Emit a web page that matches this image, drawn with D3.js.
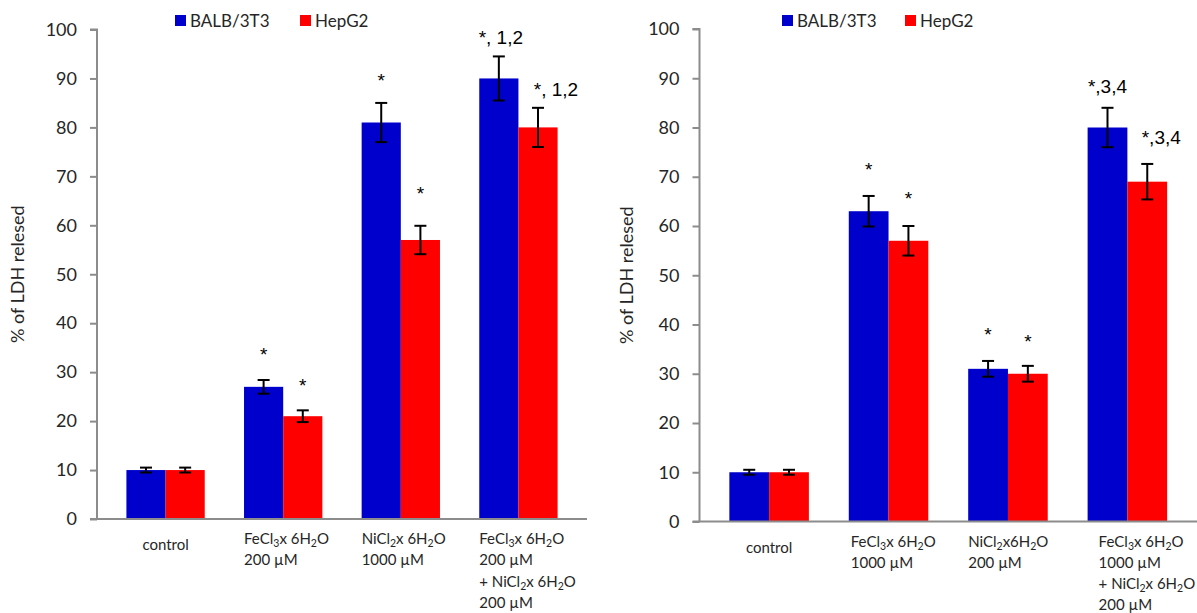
<!DOCTYPE html>
<html>
<head>
<meta charset="utf-8">
<script src="https://cdn.jsdelivr.net/npm/d3@7"></script>
<style>
  html, body { margin: 0; padding: 0; background: #fff; }
  svg { display: block; }
</style>
</head>
<body>
<svg id="chart" width="1197" height="613"></svg>
<script>
// ---------- DATA ----------
const seriesNames = ["BALB/3T3", "HepG2"];
const seriesColors = ["#0000CC", "#FF0000"];
const yTicks = [0, 10, 20, 30, 40, 50, 60, 70, 80, 90, 100];
const yTitle = "% of LDH relesed";

// Left panel
const leftCategories = [
  [["control"]],
  [["FeCl", ["3"], "x 6H", ["2"], "O"], ["200 µM"]],
  [["NiCl", ["2"], "x 6H", ["2"], "O"], ["1000 µM"]],
  [["FeCl", ["3"], "x 6H", ["2"], "O"], ["200 µM"], ["+ NiCl", ["2"], "x 6H", ["2"], "O"], ["200 µM"]]
];
const leftBalb = [10, 27, 81, 90];
const leftHepg = [10, 21, 57, 80];
const leftBalbErr = [0.5, 1.4, 4, 4.5];
const leftHepgErr = [0.5, 1.2, 2.9, 4];
const leftBalbNote = ["", "*", "*", "*, 1,2"];
const leftHepgNote = ["", "*", "*", "*, 1,2"];

// Right panel
const rightCategories = [
  [["control"]],
  [["FeCl", ["3"], "x 6H", ["2"], "O"], ["1000 µM"]],
  [["NiCl", ["2"], "x6H", ["2"], "O"], ["200 µM"]],
  [["FeCl", ["3"], "x 6H", ["2"], "O"], ["1000 µM"], ["+ NiCl", ["2"], "x 6H", ["2"], "O"], ["200 µM"]]
];
const rightBalb = [10, 63, 31, 80];
const rightHepg = [10, 57, 30, 69];
const rightBalbErr = [0.5, 3.1, 1.6, 4];
const rightHepgErr = [0.5, 3, 1.6, 3.6];
const rightBalbNote = ["", "*", "*", "*,3,4"];
const rightHepgNote = ["", "*", "*", "*,3,4"];

// ---------- LAYOUT ----------
const calibri = "Lato, 'Open Sans', sans-serif";
const arial = "'Liberation Sans', Arial, sans-serif";
const axisColor = "#8c8c8c";
const textColor = "#262626";

const svg = d3.select("#chart");

function drawPanel(cfg) {
  const g = svg.append("g");
  const n = cfg.categories.length;
  const idx = d3.range(n);

  const x = d3.scaleBand().domain(idx).range([cfg.x0, cfg.x1])
    .paddingInner(0.334).paddingOuter(0.25);
  const xs = d3.scaleBand().domain([0, 1]).range([0, x.bandwidth()]);
  const y = d3.scaleLinear().domain([0, 100]).range([cfg.yBase, cfg.yTop]);

  const values = [cfg.balb, cfg.hepg];
  const errs = [cfg.balbErr, cfg.hepgErr];
  const notes = [cfg.balbNote, cfg.hepgNote];

  // bars
  values.forEach((vals, s) => {
    g.append("g").selectAll("rect").data(vals).join("rect")
      .attr("x", (d, i) => x(i) + xs(s))
      .attr("y", d => y(d))
      .attr("width", xs.bandwidth())
      .attr("height", d => y(0) - y(d))
      .attr("fill", seriesColors[s]);
  });

  // y axis
  const yAxis = d3.axisLeft(y).tickValues(yTicks).tickSize(7).tickPadding(13);
  const ya = g.append("g").attr("transform", `translate(${cfg.x0},0)`).call(yAxis);
  ya.select(".domain").attr("stroke", axisColor).attr("stroke-width", 2)
    .attr("d", `M-7,${y(100)}H0V${y(0)}`);
  ya.selectAll(".tick line").attr("stroke", axisColor).attr("stroke-width", 2);
  ya.selectAll(".tick text").attr("fill", textColor)
    .style("font-family", calibri).style("font-size", "18px");

  // x axis line
  g.append("line")
    .attr("x1", cfg.x0 - 7).attr("x2", cfg.x1)
    .attr("y1", y(0)).attr("y2", y(0))
    .attr("stroke", axisColor).attr("stroke-width", 2);

  // error bars
  values.forEach((vals, s) => {
    const eg = g.append("g");
    vals.forEach((v, i) => {
      const cx = x(i) + xs(s) + xs.bandwidth() / 2;
      const e = errs[s][i];
      const top = y(v + e), bot = y(v - e);
      eg.append("line").attr("x1", cx).attr("x2", cx).attr("y1", top).attr("y2", bot)
        .attr("stroke", "#000").attr("stroke-width", 2);
      [top, bot].forEach(yy => eg.append("line")
        .attr("x1", cx - 6).attr("x2", cx + 6).attr("y1", yy).attr("y2", yy)
        .attr("stroke", "#000").attr("stroke-width", 2));
    });
  });

  // annotations
  values.forEach((vals, s) => {
    vals.forEach((v, i) => {
      const t = notes[s][i];
      if (!t) return;
      const cx = x(i) + xs(s) + xs.bandwidth() / 2;
      const top = y(v + errs[s][i]);
      const single = t === "*";
      const off = cfg.noteOffsets[s][i] || 0;
      const dy = cfg.noteDy[s][i] || 0;
      g.append("text")
        .attr("x", cx + off)
        .attr("y", top - (single ? 16 : 12) + dy)
        .attr("text-anchor", "middle")
        .attr("fill", "#000")
        .style("font-family", arial)
        .style("font-size", single ? "19px" : "19px")
        .text(t);
    });
  });

  // category labels
  cfg.categories.forEach((lines, i) => {
    const single = lines.length === 1;
    const lx = single ? x(i) + x.bandwidth() / 2 : x(i) + (cfg.labelShift[i] || 0);
    const tx = g.append("text")
      .attr("fill", textColor)
      .attr("x", lx)
      .attr("y", cfg.yBase + (single ? 31 : 25))
      .attr("text-anchor", single ? "middle" : "start")
      .style("font-family", calibri).style("font-size", "15px");
    lines.forEach((parts, li) => {
      parts.forEach((p, pi) => {
        const ts = tx.append("tspan");
        let dy = 0;
        if (pi === 0) { ts.attr("x", lx); dy += li === 0 ? 0 : 21.3; }
        if (pi > 0 && Array.isArray(parts[pi - 1])) dy -= 3;
        if (Array.isArray(p)) {
          ts.text(p[0]).style("font-size", "10.5px");
          dy += 3;
        } else {
          ts.text(p);
        }
        ts.attr("dy", dy);
      });
    });
  });

  // y title
  g.append("text")
    .attr("transform", `translate(${cfg.titleX},${(y(0) + y(100)) / 2}) rotate(-90)`)
    .attr("text-anchor", "middle")
    .attr("fill", textColor)
    .style("font-family", calibri).style("font-size", "18px")
    .text(yTitle);

  // legend
  const lg = g.append("g");
  seriesNames.forEach((name, s) => {
    const lx = cfg.legendX[s];
    lg.append("rect").attr("x", lx).attr("y", 15).attr("width", 11).attr("height", 11)
      .attr("fill", seriesColors[s]);
    lg.append("text").attr("x", lx + 15).attr("y", 26.5)
      .attr("fill", textColor)
      .style("font-family", calibri).style("font-size", "17px")
      .text(name);
  });
}

drawPanel({
  categories: leftCategories,
  balb: leftBalb, hepg: leftHepg,
  balbErr: leftBalbErr, hepgErr: leftHepgErr,
  balbNote: leftBalbNote, hepgNote: leftHepgNote,
  x0: 97, x1: 587, yBase: 519, yTop: 29.5,
  titleX: 24,
  legendX: [175, 300],
  labelShift: [0, 0, 0, 0],
  noteOffsets: [[0, 0, 0, 2], [0, 0, 0, 18]],
  noteDy: [[0, -3, 0, 0], [0, -2, -10, 0]]
});

drawPanel({
  categories: rightCategories,
  balb: rightBalb, hepg: rightHepg,
  balbErr: rightBalbErr, hepgErr: rightHepgErr,
  balbNote: rightBalbNote, hepgNote: rightHepgNote,
  x0: 699.5, x1: 1197, yBase: 521.5, yTop: 29,
  titleX: 633,
  legendX: [782, 905],
  labelShift: [0, 2, 0, 11],
  noteOffsets: [[0, 0, 0, 0], [0, 0, 0, 14]],
  noteDy: [[0, -4, -4, -3], [0, -5, -2, -8]]
});
</script>
</body>
</html>
